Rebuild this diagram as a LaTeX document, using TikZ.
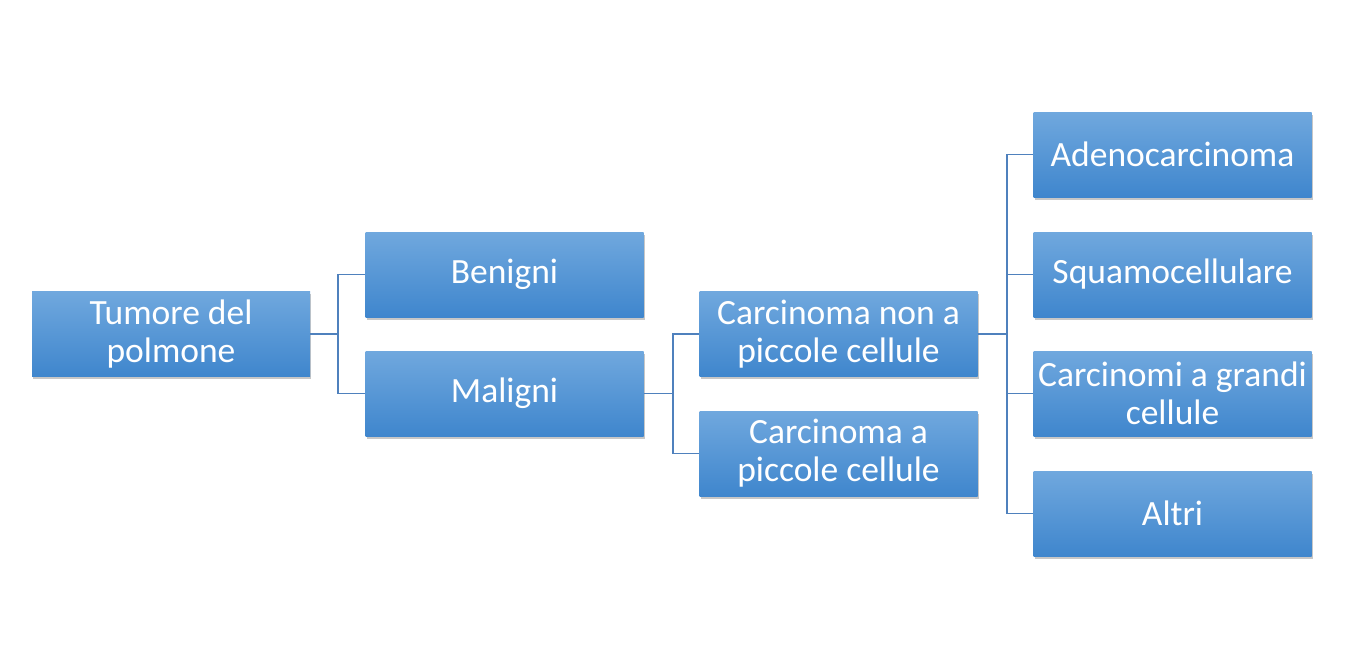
\documentclass[tikz,border=0pt]{standalone}
\usepackage{fontspec}
\setmainfont{Carlito}
\usetikzlibrary{shadows}
\definecolor{boxtop}{HTML}{70A8DE}
\definecolor{boxbot}{HTML}{3F86CD}
\definecolor{linec}{HTML}{4F81BD}
\begin{document}
\begin{tikzpicture}[x=1pt,y=-1pt,
 box/.style={minimum width=278pt, minimum height=85pt, inner sep=0pt,
   top color=boxtop, bottom color=boxbot, draw=none, text=white, align=center,
   font=\fontsize{35.5}{38}\selectfont,
   drop shadow={shadow xshift=1.2pt, shadow yshift=-2.5pt, fill=black, opacity=0.22}},
 conn/.style={draw=linec, line width=1.7pt}]
\useasboundingbox (0,0) rectangle (1350,653);
\node[box] (t) at (171,334) {Tumore del\\polmone};
\node[box] (b) at (504.5,274.5) {Benigni};
\node[box] (m) at (504.5,393.5) {Maligni};
\node[box] (n) at (838.5,334) {Carcinoma non a\\piccole cellule};
\node[box] (p) at (838.5,453.5) {Carcinoma a\\piccole cellule};
\node[box] (a) at (1172.5,154.5) {Adenocarcinoma};
\node[box] (s) at (1172.5,274.5) {Squamocellulare};
\node[box] (g) at (1172.5,393.5) {Carcinomi a grandi\\cellule};
\node[box] (o) at (1172.5,513.5) {Altri};
\draw[conn] (t.east) -- ++(28,0) |- (b.west);
\draw[conn] (t.east) -- ++(28,0) |- (m.west);
\draw[conn] (m.east) -- ++(29,0) |- (n.west);
\draw[conn] (m.east) -- ++(29,0) |- (p.west);
\draw[conn] (n.east) -- ++(29,0) |- (a.west);
\draw[conn] (n.east) -- ++(29,0) |- (s.west);
\draw[conn] (n.east) -- ++(29,0) |- (g.west);
\draw[conn] (n.east) -- ++(29,0) |- (o.west);
\end{tikzpicture}
\end{document}
